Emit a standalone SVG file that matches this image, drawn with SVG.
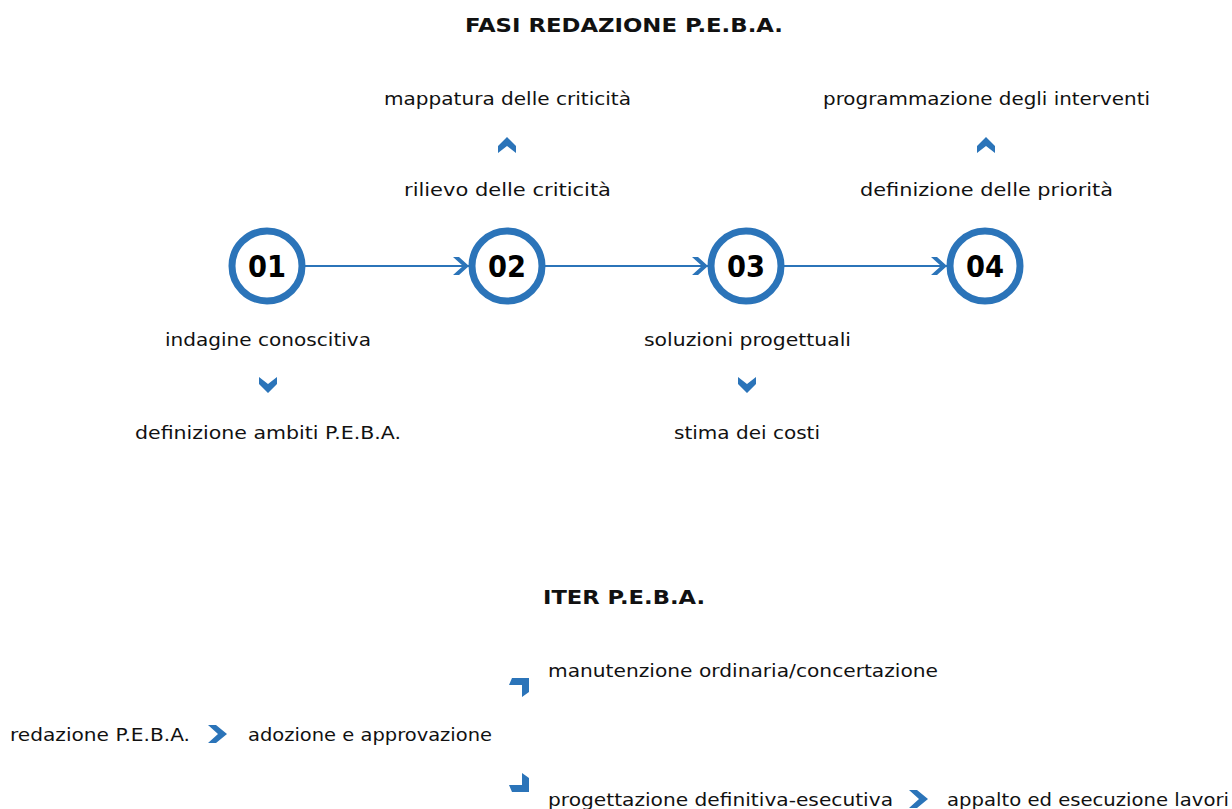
<svg xmlns="http://www.w3.org/2000/svg" width="1232" height="809" viewBox="0 0 1232 809">
<defs>
<style>
.t{font-family:"DejaVu Sans","Liberation Sans",sans-serif;font-size:17px;fill:#111}
.h{font-family:"DejaVu Sans","Liberation Sans",sans-serif;font-size:20px;font-weight:bold;fill:#111}
.n{font-family:"DejaVu Sans","Liberation Sans",sans-serif;font-size:31px;font-weight:bold;fill:#000;text-anchor:middle}
.c{fill:#fff;stroke:#2b74b9;stroke-width:7}
.l{stroke:#2b74b9;stroke-width:2;fill:none}
.a{fill:#2b74b9}
</style>
<marker id="chev" viewBox="0 0 17 18" refX="16" refY="9" markerWidth="17" markerHeight="18" markerUnits="userSpaceOnUse" orient="auto">
<path d="M0,0 L6,0 L16,9 L6,18 L0,18 L10,9 Z" fill="#2b74b9"/>
</marker>
<path id="up" d="M-9,2 L0,-7 L9,2 L9,9 L0,2 L-9,9 Z"/>
</defs>
<rect width="1232" height="809" fill="#fff"/>
<text class="h" x="624" y="32" text-anchor="middle" textLength="318" lengthAdjust="spacingAndGlyphs">FASI REDAZIONE P.E.B.A.</text>
<g id="connectors">
<line class="l" x1="305" y1="266" x2="469" y2="266" marker-end="url(#chev)"/>
<line class="l" x1="544" y1="266" x2="708" y2="266" marker-end="url(#chev)"/>
<line class="l" x1="783" y1="266" x2="947" y2="266" marker-end="url(#chev)"/>
</g>
<g id="n01"><circle class="c" cx="267" cy="266" r="35"/><text class="n" x="267" y="277" textLength="38" lengthAdjust="spacingAndGlyphs">01</text></g>
<g id="n02"><circle class="c" cx="507" cy="266" r="35"/><text class="n" x="507" y="277" textLength="38" lengthAdjust="spacingAndGlyphs">02</text></g>
<g id="n03"><circle class="c" cx="746" cy="266" r="35"/><text class="n" x="746" y="277" textLength="38" lengthAdjust="spacingAndGlyphs">03</text></g>
<g id="n04"><circle class="c" cx="985" cy="266" r="35"/><text class="n" x="985" y="277" textLength="38" lengthAdjust="spacingAndGlyphs">04</text></g>
<g id="labels-02">
<text class="t" x="384" y="105" textLength="247" lengthAdjust="spacingAndGlyphs">mappatura delle criticità</text>
<use href="#up" class="a" x="507" y="144"/>
<text class="t" x="404" y="196" textLength="207" lengthAdjust="spacingAndGlyphs">rilievo delle criticità</text>
</g>
<g id="labels-04">
<text class="t" x="823" y="105" textLength="327" lengthAdjust="spacingAndGlyphs">programmazione degli interventi</text>
<use href="#up" class="a" x="986" y="144"/>
<text class="t" x="860" y="196" textLength="253" lengthAdjust="spacingAndGlyphs">definizione delle priorità</text>
</g>
<g id="labels-01">
<text class="t" x="165" y="346" textLength="206" lengthAdjust="spacingAndGlyphs">indagine conoscitiva</text>
<use href="#up" class="a" transform="translate(268,386) scale(1,-1)"/>
<text class="t" x="135" y="439" textLength="266" lengthAdjust="spacingAndGlyphs">definizione ambiti P.E.B.A.</text>
</g>
<g id="labels-03">
<text class="t" x="644" y="346" textLength="207" lengthAdjust="spacingAndGlyphs">soluzioni progettuali</text>
<use href="#up" class="a" transform="translate(747,386) scale(1,-1)"/>
<text class="t" x="674" y="439" textLength="146" lengthAdjust="spacingAndGlyphs">stima dei costi</text>
</g>
<text class="h" x="624" y="604" text-anchor="middle" textLength="162" lengthAdjust="spacingAndGlyphs">ITER P.E.B.A.</text>
<g id="iter">
<text class="t" x="10" y="741" textLength="180" lengthAdjust="spacingAndGlyphs">redazione P.E.B.A.</text>
<path class="a" d="M208,725 L216,725 L227,734 L216,743 L208,743 L218,734 Z"/>
<text class="t" x="248" y="741" textLength="244" lengthAdjust="spacingAndGlyphs">adozione e approvazione</text>
<path class="a" d="M512,678 L529,678 L529,692 L522,697 L522,685 L509,685 Z"/>
<text class="t" x="548" y="677" textLength="390" lengthAdjust="spacingAndGlyphs">manutenzione ordinaria/concertazione</text>
<path class="a" d="M512,792 L529,792 L529,778 L522,773 L522,785 L509,785 Z"/>
<text class="t" x="548" y="806" textLength="345" lengthAdjust="spacingAndGlyphs">progettazione definitiva-esecutiva</text>
<path class="a" d="M909,790 L917,790 L928,799 L917,808 L909,808 L919,799 Z"/>
<text class="t" x="947" y="806" textLength="282" lengthAdjust="spacingAndGlyphs">appalto ed esecuzione lavori</text>
</g>
</svg>
